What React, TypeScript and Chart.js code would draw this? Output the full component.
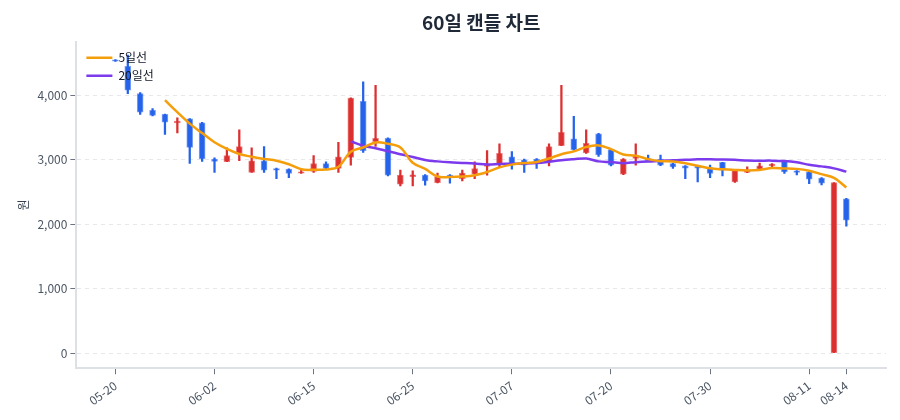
import React, { useEffect, useRef } from "react";
import { Chart, registerables } from "chart.js";

Chart.register(...registerables);

const dates = [
  "05-20", "05-21", "05-22", "05-23", "05-26", "05-27", "05-28", "05-29",
  "06-02", "06-03", "06-04", "06-05", "06-09", "06-10", "06-11", "06-12",
  "06-15", "06-16", "06-17", "06-18", "06-19", "06-22", "06-23", "06-24",
  "06-25", "06-26", "06-27", "06-30", "07-01", "07-02", "07-03", "07-04",
  "07-07", "07-08", "07-09", "07-10", "07-13", "07-14", "07-15", "07-16",
  "07-20", "07-21", "07-22", "07-23", "07-24", "07-27", "07-28", "07-29",
  "07-30", "07-31", "08-01", "08-04", "08-05", "08-06", "08-07", "08-08",
  "08-11", "08-12", "08-13", "08-14",
];

const opens = [
  4550, 4450, 4027, 3766, 3703, 3573, 3636, 3573, 3011, 2969,
  3098, 2802, 2984, 2864, 2855, 2792, 2817, 2942, 2864, 3036,
  3906, 3281, 3333, 2620, 2739, 2761, 2645, 2761, 2708, 2777,
  2895, 2933, 3047, 3000, 3011, 2969, 3219, 3323, 3105, 3402,
  3156, 2777, 3020, 3020, 3011, 2942, 2906, 2906, 2880, 2958,
  2656, 2802, 2855, 2906, 2984, 2828, 2812, 2714, 0, 2395,
];

const highs = [
  4555, 4625, 4042, 3792, 3710, 3652, 3640, 3580, 3030, 3183,
  3464, 3183, 3203, 2870, 2860, 2855, 3063, 2969, 3270, 3960,
  4208, 4156, 3340, 2839, 2828, 2770, 2792, 2770, 2839, 2969,
  3141, 3245, 3125, 3010, 3020, 3245, 4156, 3672, 3464, 3410,
  3160, 3020, 3245, 3073, 3073, 2950, 2910, 2910, 2917, 2960,
  2845, 2890, 2948, 2942, 2990, 2830, 2820, 2723, 2645, 2400,
];

const lows = [
  4525, 4025, 3703, 3680, 3391, 3417, 2942, 2973, 2802, 2969,
  2984, 2802, 2802, 2708, 2723, 2786, 2802, 2855, 2802, 2917,
  3114, 3208, 2750, 2594, 2594, 2605, 2640, 2636, 2672, 2708,
  2761, 2880, 2855, 2802, 2864, 2906, 3219, 3150, 3100, 3052,
  2905, 2770, 2917, 2980, 2910, 2864, 2708, 2656, 2723, 2750,
  2650, 2800, 2850, 2890, 2786, 2766, 2630, 2609, 0, 1969,
];

const closes = [
  4530, 4080, 3739, 3688, 3583, 3598, 3192, 3011, 2973, 3063,
  3203, 2984, 2839, 2839, 2786, 2812, 2942, 2864, 3047, 3958,
  3141, 3333, 2761, 2761, 2766, 2672, 2739, 2723, 2792, 2864,
  2933, 3098, 2933, 2917, 2948, 3203, 3427, 3156, 3255, 3073,
  2917, 3011, 3063, 2984, 2917, 2890, 2870, 2870, 2786, 2839,
  2839, 2839, 2906, 2933, 2812, 2802, 2698, 2636, 2645, 2062,
];

const tickIndices = [0, 8, 16, 24, 32, 40, 48, 56, 59];
const yTickValues = [0, 1000, 2000, 3000, 4000];

const UP = "#dc2f2f";
const DOWN = "#2563eb";
const MA5_COLOR = "#f59e0b";
const MA20_COLOR = "#7c3aed";

function movingAverage(values: number[], n: number): (number | null)[] {
  return values.map((_, i) => {
    if (i < n - 1) return null;
    let s = 0;
    for (let k = i - n + 1; k <= i; k++) s += values[k];
    return s / n;
  });
}

const legendInArea = {
  id: "legendInArea",
  beforeLayout(chart: any) {
    const l = chart.legend;
    if (l && !l._onTop) {
      l._layers = () => [{ z: 1, draw: (area: any) => l.draw(area) }];
      l._onTop = true;
    }
  },
  afterLayout(chart: any) {
    const l = chart.legend;
    if (!l) return;
    const dy = chart.chartArea.top + 4 - l.top;
    const dx = chart.chartArea.left + 4 - l.left;
    l.top += dy;
    l.bottom += dy;
    l.left += dx;
    l.right += dx;
  },
};

export default function App() {
  const ref = useRef<HTMLCanvasElement | null>(null);

  useEffect(() => {
    if (!ref.current) return;
    Chart.defaults.font.family = "'Noto Sans CJK KR', 'Noto Sans', sans-serif";
    const colors = closes.map((c, i) => (c >= opens[i] ? UP : DOWN));
    const ma5 = movingAverage(closes, 5);
    const ma20 = movingAverage(closes, 20);

    const chart = new Chart(ref.current, {
      type: "bar",
      data: {
        datasets: [
          {
            type: "line",
            label: "5일선",
            data: ma5.map((v, i) => ({ x: i, y: v })),
            borderColor: MA5_COLOR,
            backgroundColor: MA5_COLOR,
            borderWidth: 2.5,
            pointRadius: 0,
            tension: 0.35,
            order: 0,
          } as any,
          {
            type: "line",
            label: "20일선",
            data: ma20.map((v, i) => ({ x: i, y: v })),
            borderColor: MA20_COLOR,
            backgroundColor: MA20_COLOR,
            borderWidth: 2.5,
            pointRadius: 0,
            tension: 0.35,
            order: 0,
          } as any,
          {
            type: "bar",
            label: "wick",
            data: dates.map((_, i) => ({ x: i, y: [lows[i], highs[i]] })),
            backgroundColor: colors,
            borderWidth: 0,
            barThickness: 1.6,
            grouped: false,
            order: 2,
          } as any,
          {
            type: "bar",
            label: "body",
            data: dates.map((_, i) => ({ x: i, y: [opens[i], closes[i]] })),
            backgroundColor: colors,
            borderColor: colors.map((c) => c + "99"),
            borderWidth: 1,
            borderSkipped: false,
            barThickness: 6,
            grouped: false,
            order: 1,
          } as any,
        ],
      },
      options: {
        animation: false,
        responsive: true,
        maintainAspectRatio: false,
        layout: { padding: { right: 6, left: 4 } },
        plugins: {
          title: {
            display: true,
            text: "60일 캔들 차트",
            fullSize: false,
            color: "#1f2937",
            font: { size: 19, weight: "bold" },
            padding: { top: 3, bottom: 8 },
          },
          legend: {
            position: "chartArea",
            align: "start",
            labels: {
              filter: (item: any) => item.text === "5일선" || item.text === "20일선",
              usePointStyle: true,
              pointStyle: "line",
              pointStyleWidth: 26,
              padding: 6,
              color: "#111827",
              font: { size: 12 },
            },
          },
          tooltip: { enabled: false },
        },
        scales: {
          x: {
            type: "linear",
            min: -3.15,
            max: 62.2,
            offset: false,
            afterBuildTicks: (scale: any) => {
              scale.ticks = tickIndices.map((v) => ({ value: v }));
            },
            grid: {
              offset: false,
              drawOnChartArea: false,
              drawTicks: true,
              tickLength: 6,
              tickColor: "#6b7280",
            },
            border: { display: true, color: "#dde1e6", width: 2 },
            ticks: {
              autoSkip: false,
              maxRotation: 36,
              minRotation: 36,
              padding: 4,
              color: "#4b5563",
              font: { size: 12 },
              callback: (v: any) => dates[v] ?? "",
            },
          },
          y: {
            min: -235,
            max: 4830,
            afterBuildTicks: (scale: any) => {
              scale.ticks = yTickValues.map((v) => ({ value: v }));
            },
            grid: {
              color: "#e5e7eb",
              drawTicks: true,
              tickLength: 6,
              tickColor: "#6b7280",
            },
            border: { display: true, color: "#dde1e6", width: 2, dash: [4, 4] },
            ticks: {
              color: "#4b5563",
              font: { size: 12 },
              callback: (v: any) => Number(v).toLocaleString("en-US"),
            },
            title: {
              display: true,
              text: "원",
              color: "#374151",
              font: { size: 12 },
            },
          },
        },
      } as any,
      plugins: [legendInArea],
    });
    return () => chart.destroy();
  }, []);

  return (
    <div style={{ width: 884, height: 404, position: "relative" }}>
      <canvas ref={ref} />
    </div>
  );
}
